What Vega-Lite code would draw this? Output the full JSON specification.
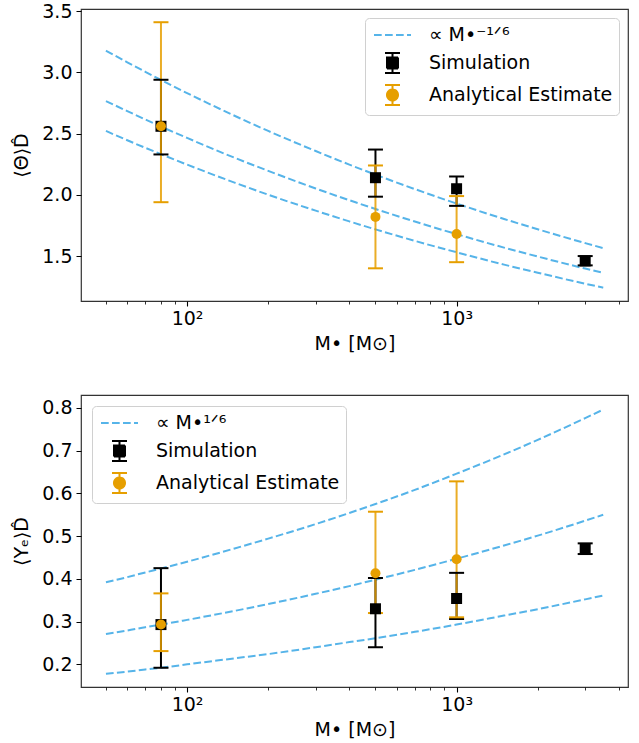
{
  "$schema": "https://vega.github.io/schema/vega-lite/v6.json",
  "padding": {"left": 12, "top": 1, "right": 10, "bottom": 5},
  "bounds": "flush",
  "spacing": 94,
  "config": {
    "font": "DejaVu Sans",
    "view": {"stroke": "#333333", "strokeWidth": 1.2},
    "axis": {
      "grid": false,
      "domain": false,
      "labelFont": "DejaVu Sans",
      "labelFontSize": 19,
      "labelColor": "black",
      "tickColor": "black",
      "titleFont": "DejaVu Sans",
      "titleFontSize": 19,
      "titleFontWeight": "normal",
      "titleColor": "black",
      "labelFlush": false,
      "labelOverlap": false
    },
    "legend": {
      "labelFont": "DejaVu Sans",
      "labelFontSize": 19,
      "labelColor": "black",
      "labelLimit": 0,
      "fillColor": "white",
      "strokeColor": "#d0d0d0",
      "cornerRadius": 4,
      "padding": 6,
      "rowPadding": 4,
      "symbolOffset": 10.5,
      "labelOffset": 25.5,
      "symbolSize": 400,
      "symbolStrokeWidth": 2
    }
  },
  "datasets": {
    "theta_points": [
      {"M": 80, "kind": "Simulation", "value": 2.56, "lo": 2.33, "hi": 2.94},
      {"M": 500, "kind": "Simulation", "value": 2.14, "lo": 1.985, "hi": 2.37},
      {"M": 1000, "kind": "Simulation", "value": 2.05, "lo": 1.91, "hi": 2.15},
      {"M": 3000, "kind": "Simulation", "value": 1.46, "lo": 1.424, "hi": 1.50},
      {"M": 80, "kind": "Analytical Estimate", "value": 2.56, "lo": 1.94, "hi": 3.41},
      {"M": 500, "kind": "Analytical Estimate", "value": 1.82, "lo": 1.40, "hi": 2.24},
      {"M": 1000, "kind": "Analytical Estimate", "value": 1.68, "lo": 1.45, "hi": 1.99}
    ],
    "theta_curves": [
      {"M": 50, "curve": "upper", "value": 3.178}, {"M": 60, "curve": "upper", "value": 3.083},
      {"M": 70, "curve": "upper", "value": 3.005}, {"M": 80, "curve": "upper", "value": 2.938},
      {"M": 100, "curve": "upper", "value": 2.831}, {"M": 150, "curve": "upper", "value": 2.646},
      {"M": 200, "curve": "upper", "value": 2.522}, {"M": 300, "curve": "upper", "value": 2.358},
      {"M": 400, "curve": "upper", "value": 2.247}, {"M": 500, "curve": "upper", "value": 2.165},
      {"M": 700, "curve": "upper", "value": 2.047}, {"M": 1000, "curve": "upper", "value": 1.929},
      {"M": 1500, "curve": "upper", "value": 1.803}, {"M": 2000, "curve": "upper", "value": 1.719},
      {"M": 3000, "curve": "upper", "value": 1.606}, {"M": 3500, "curve": "upper", "value": 1.565},
      {"M": 50, "curve": "middle", "value": 2.766}, {"M": 60, "curve": "middle", "value": 2.684},
      {"M": 70, "curve": "middle", "value": 2.616}, {"M": 80, "curve": "middle", "value": 2.558},
      {"M": 100, "curve": "middle", "value": 2.465}, {"M": 150, "curve": "middle", "value": 2.303},
      {"M": 200, "curve": "middle", "value": 2.196}, {"M": 300, "curve": "middle", "value": 2.052},
      {"M": 400, "curve": "middle", "value": 1.956}, {"M": 500, "curve": "middle", "value": 1.885},
      {"M": 700, "curve": "middle", "value": 1.782}, {"M": 1000, "curve": "middle", "value": 1.679},
      {"M": 1500, "curve": "middle", "value": 1.569}, {"M": 2000, "curve": "middle", "value": 1.496},
      {"M": 3000, "curve": "middle", "value": 1.398}, {"M": 3500, "curve": "middle", "value": 1.363},
      {"M": 50, "curve": "lower", "value": 2.522}, {"M": 60, "curve": "lower", "value": 2.446},
      {"M": 70, "curve": "lower", "value": 2.384}, {"M": 80, "curve": "lower", "value": 2.332},
      {"M": 100, "curve": "lower", "value": 2.247}, {"M": 150, "curve": "lower", "value": 2.100},
      {"M": 200, "curve": "lower", "value": 2.001}, {"M": 300, "curve": "lower", "value": 1.871},
      {"M": 400, "curve": "lower", "value": 1.783}, {"M": 500, "curve": "lower", "value": 1.718},
      {"M": 700, "curve": "lower", "value": 1.624}, {"M": 1000, "curve": "lower", "value": 1.531},
      {"M": 1500, "curve": "lower", "value": 1.430}, {"M": 2000, "curve": "lower", "value": 1.364},
      {"M": 3000, "curve": "lower", "value": 1.274}, {"M": 3500, "curve": "lower", "value": 1.242}
    ],
    "ye_points": [
      {"M": 80, "kind": "Simulation", "value": 0.293, "lo": 0.192, "hi": 0.425},
      {"M": 500, "kind": "Simulation", "value": 0.330, "lo": 0.240, "hi": 0.402},
      {"M": 1000, "kind": "Simulation", "value": 0.354, "lo": 0.306, "hi": 0.414},
      {"M": 3000, "kind": "Simulation", "value": 0.470, "lo": 0.458, "hi": 0.483},
      {"M": 80, "kind": "Analytical Estimate", "value": 0.293, "lo": 0.231, "hi": 0.366},
      {"M": 500, "kind": "Analytical Estimate", "value": 0.413, "lo": 0.320, "hi": 0.557},
      {"M": 1000, "kind": "Analytical Estimate", "value": 0.446, "lo": 0.310, "hi": 0.628}
    ],
    "ye_curves": [
      {"M": 50, "curve": "upper", "value": 0.392}, {"M": 60, "curve": "upper", "value": 0.404},
      {"M": 70, "curve": "upper", "value": 0.415}, {"M": 80, "curve": "upper", "value": 0.424},
      {"M": 100, "curve": "upper", "value": 0.440}, {"M": 150, "curve": "upper", "value": 0.471},
      {"M": 200, "curve": "upper", "value": 0.494}, {"M": 300, "curve": "upper", "value": 0.528},
      {"M": 400, "curve": "upper", "value": 0.554}, {"M": 500, "curve": "upper", "value": 0.575},
      {"M": 700, "curve": "upper", "value": 0.608}, {"M": 1000, "curve": "upper", "value": 0.646},
      {"M": 1500, "curve": "upper", "value": 0.691}, {"M": 2000, "curve": "upper", "value": 0.725},
      {"M": 3000, "curve": "upper", "value": 0.776}, {"M": 3500, "curve": "upper", "value": 0.796},
      {"M": 50, "curve": "middle", "value": 0.271}, {"M": 60, "curve": "middle", "value": 0.279},
      {"M": 70, "curve": "middle", "value": 0.287}, {"M": 80, "curve": "middle", "value": 0.293},
      {"M": 100, "curve": "middle", "value": 0.304}, {"M": 150, "curve": "middle", "value": 0.325},
      {"M": 200, "curve": "middle", "value": 0.341}, {"M": 300, "curve": "middle", "value": 0.365},
      {"M": 400, "curve": "middle", "value": 0.383}, {"M": 500, "curve": "middle", "value": 0.398},
      {"M": 700, "curve": "middle", "value": 0.421}, {"M": 1000, "curve": "middle", "value": 0.447},
      {"M": 1500, "curve": "middle", "value": 0.478}, {"M": 2000, "curve": "middle", "value": 0.501},
      {"M": 3000, "curve": "middle", "value": 0.536}, {"M": 3500, "curve": "middle", "value": 0.550},
      {"M": 50, "curve": "lower", "value": 0.178}, {"M": 60, "curve": "lower", "value": 0.183},
      {"M": 70, "curve": "lower", "value": 0.188}, {"M": 80, "curve": "lower", "value": 0.192},
      {"M": 100, "curve": "lower", "value": 0.200}, {"M": 150, "curve": "lower", "value": 0.214},
      {"M": 200, "curve": "lower", "value": 0.224}, {"M": 300, "curve": "lower", "value": 0.240},
      {"M": 400, "curve": "lower", "value": 0.252}, {"M": 500, "curve": "lower", "value": 0.261},
      {"M": 700, "curve": "lower", "value": 0.276}, {"M": 1000, "curve": "lower", "value": 0.293},
      {"M": 1500, "curve": "lower", "value": 0.314}, {"M": 2000, "curve": "lower", "value": 0.329},
      {"M": 3000, "curve": "lower", "value": 0.352}, {"M": 3500, "curve": "lower", "value": 0.361}
    ]
  },
  "resolve": {
    "scale": {"x": "independent", "y": "independent", "color": "independent"},
    "legend": {"color": "independent"}
  },
  "vconcat": [
    {
      "width": 547,
      "height": 292,
      "encoding": {
        "x": {
          "field": "M", "type": "quantitative",
          "scale": {"type": "log", "domain": [40.4, 4325], "nice": false, "zero": false},
          "axis": {
            "title": "M• [M⊙]",
            "titlePadding": 6,
            "labelPadding": 3,
            "values": [50, 60, 70, 80, 90, 100, 200, 300, 400, 500, 600, 700, 800, 900, 1000, 2000, 3000, 4000],
            "labelExpr": "datum.value == 100 ? '10²' : datum.value == 1000 ? '10³' : ''",
            "tickSize": {"condition": {"test": "datum.value == 100 || datum.value == 1000", "value": 5}, "value": 3},
            "tickWidth": {"condition": {"test": "datum.value == 100 || datum.value == 1000", "value": 1.1}, "value": 0.8}
          }
        }
      },
      "layer": [
        {
          "data": {"name": "theta_curves"},
          "mark": {"type": "line", "strokeWidth": 2, "strokeDash": [7.7, 3.3], "interpolate": "monotone"},
          "encoding": {
            "y": {
              "field": "value", "type": "quantitative",
              "scale": {"domain": [1.133, 3.518], "nice": false, "zero": false},
              "axis": {"title": "⟨Θ⟩D̂", "values": [1.5, 2.0, 2.5, 3.0, 3.5], "format": ".1f", "tickSize": 5, "labelPadding": 4, "titlePadding": 10}
            },
            "detail": {"field": "curve"},
            "color": {
              "datum": "∝ M•⁻¹ᐟ⁶",
              "title": null,
              "scale": {"domain": ["∝ M•⁻¹ᐟ⁶", "Simulation", "Analytical Estimate"], "range": ["#56B4E9", "black", "#E69F00"]},
              "legend": {
                "title": null,
                "orient": "top-right",
                "offset": 9,
                "encode": {
                  "symbols": {
                    "update": {
                      "shape": {"signal": "datum.value === 'Simulation' ? 'M-0.75,-1H0.75M0,-1V1M-0.75,1H0.75M-0.55,-0.55H0.55V0.55H-0.55Z' : datum.value === 'Analytical Estimate' ? 'M-0.75,-1H0.75M0,-1V1M-0.75,1H0.75M0.55,0A0.55,0.55 0 1,1 -0.55,0A0.55,0.55 0 1,1 0.55,0Z' : 'M-1.85,0H1.85'"},
                      "fill": {"signal": "datum.value === 'Simulation' ? 'black' : datum.value === 'Analytical Estimate' ? '#E69F00' : 'transparent'"},
                      "stroke": {"signal": "datum.value === 'Simulation' ? 'black' : datum.value === 'Analytical Estimate' ? '#E69F00' : '#56B4E9'"},
                      "strokeDash": {"signal": "datum.value === 'Simulation' || datum.value === 'Analytical Estimate' ? [1, 0] : [7.7, 3.3]"},
                      "strokeWidth": {"value": 2},
                      "size": {"value": 400},
                      "opacity": {"value": 1}
                    }
                  }
                }
              }
            }
          }
        },
        {
          "data": {"name": "theta_points"},
          "transform": [{"filter": "datum.kind === 'Simulation'"}],
          "mark": {"type": "rule", "color": "black", "strokeWidth": 2},
          "encoding": {"y": {"field": "lo", "type": "quantitative"}, "y2": {"field": "hi"}}
        },
        {
          "data": {"name": "theta_points"},
          "transform": [{"filter": "datum.kind === 'Analytical Estimate'"}],
          "mark": {"type": "rule", "color": "#E69F00", "strokeWidth": 2, "opacity": 0.85},
          "encoding": {"y": {"field": "lo", "type": "quantitative"}, "y2": {"field": "hi"}}
        },
        {
          "data": {"name": "theta_points"},
          "transform": [{"filter": "datum.kind === 'Analytical Estimate'"}],
          "mark": {"type": "tick", "orient": "horizontal", "color": "#E69F00", "size": 15, "thickness": 2, "opacity": 1},
          "encoding": {"y": {"field": "lo", "type": "quantitative"}}
        },
        {
          "data": {"name": "theta_points"},
          "transform": [{"filter": "datum.kind === 'Analytical Estimate'"}],
          "mark": {"type": "tick", "orient": "horizontal", "color": "#E69F00", "size": 15, "thickness": 2, "opacity": 1},
          "encoding": {"y": {"field": "hi", "type": "quantitative"}}
        },
        {
          "data": {"name": "theta_points"},
          "transform": [{"filter": "datum.kind === 'Simulation'"}],
          "mark": {"type": "tick", "orient": "horizontal", "color": "black", "size": 15, "thickness": 2, "opacity": 1},
          "encoding": {"y": {"field": "lo", "type": "quantitative"}}
        },
        {
          "data": {"name": "theta_points"},
          "transform": [{"filter": "datum.kind === 'Simulation'"}],
          "mark": {"type": "tick", "orient": "horizontal", "color": "black", "size": 15, "thickness": 2, "opacity": 1},
          "encoding": {"y": {"field": "hi", "type": "quantitative"}}
        },
        {
          "data": {"name": "theta_points"},
          "transform": [{"filter": "datum.kind === 'Simulation'"}],
          "mark": {"type": "point", "shape": "square", "filled": true, "size": 121, "opacity": 1},
          "encoding": {
            "y": {"field": "value", "type": "quantitative"},
            "color": {"field": "kind", "type": "nominal", "title": null, "scale": {"domain": ["∝ M•⁻¹ᐟ⁶", "Simulation", "Analytical Estimate"], "range": ["#56B4E9", "black", "#E69F00"]}}
          }
        },
        {
          "data": {"name": "theta_points"},
          "transform": [{"filter": "datum.kind === 'Analytical Estimate'"}],
          "mark": {"type": "point", "shape": "circle", "filled": true, "size": 100, "opacity": 1},
          "encoding": {
            "y": {"field": "value", "type": "quantitative"},
            "color": {"field": "kind", "type": "nominal", "title": null, "scale": {"domain": ["∝ M•⁻¹ᐟ⁶", "Simulation", "Analytical Estimate"], "range": ["#56B4E9", "black", "#E69F00"]}}
          }
        }
      ]
    },
    {
      "width": 547,
      "height": 292,
      "encoding": {
        "x": {
          "field": "M", "type": "quantitative",
          "scale": {"type": "log", "domain": [40.4, 4325], "nice": false, "zero": false},
          "axis": {
            "title": "M• [M⊙]",
            "titlePadding": 6,
            "labelPadding": 3,
            "values": [50, 60, 70, 80, 90, 100, 200, 300, 400, 500, 600, 700, 800, 900, 1000, 2000, 3000, 4000],
            "labelExpr": "datum.value == 100 ? '10²' : datum.value == 1000 ? '10³' : ''",
            "tickSize": {"condition": {"test": "datum.value == 100 || datum.value == 1000", "value": 5}, "value": 3},
            "tickWidth": {"condition": {"test": "datum.value == 100 || datum.value == 1000", "value": 1.1}, "value": 0.8}
          }
        }
      },
      "layer": [
        {
          "data": {"name": "ye_curves"},
          "mark": {"type": "line", "strokeWidth": 2, "strokeDash": [7.7, 3.3], "interpolate": "monotone"},
          "encoding": {
            "y": {
              "field": "value", "type": "quantitative",
              "scale": {"domain": [0.147, 0.83], "nice": false, "zero": false},
              "axis": {"title": "⟨Yₑ⟩D̂", "values": [0.2, 0.3, 0.4, 0.5, 0.6, 0.7, 0.8], "format": ".1f", "tickSize": 5, "labelPadding": 4, "titlePadding": 10}
            },
            "detail": {"field": "curve"},
            "color": {
              "datum": "∝ M•¹ᐟ⁶",
              "title": null,
              "scale": {"domain": ["∝ M•¹ᐟ⁶", "Simulation", "Analytical Estimate"], "range": ["#56B4E9", "black", "#E69F00"]},
              "legend": {
                "title": null,
                "orient": "top-left",
                "offset": 11,
                "encode": {
                  "symbols": {
                    "update": {
                      "shape": {"signal": "datum.value === 'Simulation' ? 'M-0.75,-1H0.75M0,-1V1M-0.75,1H0.75M-0.55,-0.55H0.55V0.55H-0.55Z' : datum.value === 'Analytical Estimate' ? 'M-0.75,-1H0.75M0,-1V1M-0.75,1H0.75M0.55,0A0.55,0.55 0 1,1 -0.55,0A0.55,0.55 0 1,1 0.55,0Z' : 'M-1.85,0H1.85'"},
                      "fill": {"signal": "datum.value === 'Simulation' ? 'black' : datum.value === 'Analytical Estimate' ? '#E69F00' : 'transparent'"},
                      "stroke": {"signal": "datum.value === 'Simulation' ? 'black' : datum.value === 'Analytical Estimate' ? '#E69F00' : '#56B4E9'"},
                      "strokeDash": {"signal": "datum.value === 'Simulation' || datum.value === 'Analytical Estimate' ? [1, 0] : [7.7, 3.3]"},
                      "strokeWidth": {"value": 2},
                      "size": {"value": 400},
                      "opacity": {"value": 1}
                    }
                  }
                }
              }
            }
          }
        },
        {
          "mark": {"type": "rule", "color": "#009E73", "strokeWidth": 2, "strokeDash": [7.7, 3.3]},
          "encoding": {"y": {"datum": 0.5, "type": "quantitative"}}
        },
        {
          "data": {"name": "ye_points"},
          "transform": [{"filter": "datum.kind === 'Simulation'"}],
          "mark": {"type": "rule", "color": "black", "strokeWidth": 2},
          "encoding": {"y": {"field": "lo", "type": "quantitative"}, "y2": {"field": "hi"}}
        },
        {
          "data": {"name": "ye_points"},
          "transform": [{"filter": "datum.kind === 'Analytical Estimate'"}],
          "mark": {"type": "rule", "color": "#E69F00", "strokeWidth": 2, "opacity": 0.85},
          "encoding": {"y": {"field": "lo", "type": "quantitative"}, "y2": {"field": "hi"}}
        },
        {
          "data": {"name": "ye_points"},
          "transform": [{"filter": "datum.kind === 'Simulation'"}],
          "mark": {"type": "tick", "orient": "horizontal", "color": "black", "size": 15, "thickness": 2, "opacity": 1},
          "encoding": {"y": {"field": "lo", "type": "quantitative"}}
        },
        {
          "data": {"name": "ye_points"},
          "transform": [{"filter": "datum.kind === 'Simulation'"}],
          "mark": {"type": "tick", "orient": "horizontal", "color": "black", "size": 15, "thickness": 2, "opacity": 1},
          "encoding": {"y": {"field": "hi", "type": "quantitative"}}
        },
        {
          "data": {"name": "ye_points"},
          "transform": [{"filter": "datum.kind === 'Analytical Estimate'"}],
          "mark": {"type": "tick", "orient": "horizontal", "color": "#E69F00", "size": 15, "thickness": 2, "opacity": 1},
          "encoding": {"y": {"field": "lo", "type": "quantitative"}}
        },
        {
          "data": {"name": "ye_points"},
          "transform": [{"filter": "datum.kind === 'Analytical Estimate'"}],
          "mark": {"type": "tick", "orient": "horizontal", "color": "#E69F00", "size": 15, "thickness": 2, "opacity": 1},
          "encoding": {"y": {"field": "hi", "type": "quantitative"}}
        },
        {
          "data": {"name": "ye_points"},
          "transform": [{"filter": "datum.kind === 'Simulation'"}],
          "mark": {"type": "point", "shape": "square", "filled": true, "size": 121, "opacity": 1},
          "encoding": {
            "y": {"field": "value", "type": "quantitative"},
            "color": {"field": "kind", "type": "nominal", "title": null, "scale": {"domain": ["∝ M•¹ᐟ⁶", "Simulation", "Analytical Estimate"], "range": ["#56B4E9", "black", "#E69F00"]}}
          }
        },
        {
          "data": {"name": "ye_points"},
          "transform": [{"filter": "datum.kind === 'Analytical Estimate'"}],
          "mark": {"type": "point", "shape": "circle", "filled": true, "size": 100, "opacity": 1},
          "encoding": {
            "y": {"field": "value", "type": "quantitative"},
            "color": {"field": "kind", "type": "nominal", "title": null, "scale": {"domain": ["∝ M•¹ᐟ⁶", "Simulation", "Analytical Estimate"], "range": ["#56B4E9", "black", "#E69F00"]}}
          }
        }
      ]
    }
  ]
}
